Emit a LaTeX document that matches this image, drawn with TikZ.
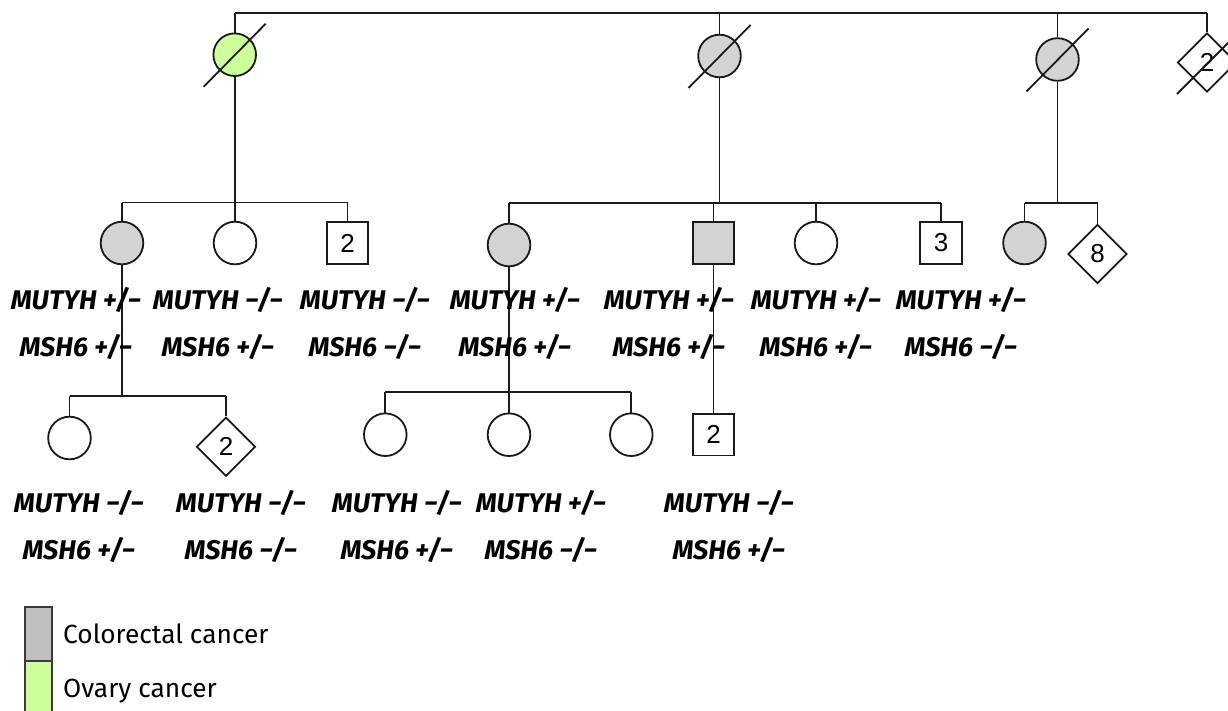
\documentclass[tikz,border=0pt]{standalone}
\usepackage{fontspec}
\setmainfont{Fira Sans}
\newfontfamily\numfont{Liberation Sans}
\usetikzlibrary{shapes.geometric}
\definecolor{ccgray}{HTML}{D3D3D3}
\definecolor{leggray}{HTML}{BFBFBF}
\definecolor{ovgreen}{HTML}{CCFF99}
\definecolor{ink}{HTML}{1A1A1A}
\definecolor{legink}{HTML}{3A3A3A}

\begin{document}
\begin{tikzpicture}[x=1pt,y=-1pt,
  link/.style={draw=ink, line width=1.8pt},
  female/.style={circle, draw=ink, line width=1.8pt, minimum size=42.6pt, inner sep=0pt},
  male/.style={rectangle, draw=ink, line width=1.8pt, minimum size=41.6pt, inner sep=0pt,
    font=\numfont\fontsize{26}{26}\selectfont},
  sexunk/.style={diamond, draw=ink, line width=1.8pt, minimum width=59pt, minimum height=59pt,
    inner sep=0pt, font=\numfont\fontsize{26}{26}\selectfont},
  cc/.style={fill=ccgray},
  ov/.style={fill=ovgreen},
  geno/.style={anchor=base, inner sep=0pt, font=\fontsize{27}{30}\selectfont\bfseries\itshape},
  legbox/.style={draw=legink, line width=2pt, minimum width=27pt, minimum height=53.4pt, inner sep=0pt},
  legtext/.style={anchor=base west, inner sep=0pt, font=\fontsize{26.3}{30}\selectfont}
]
\useasboundingbox (0,0) rectangle (1228,710);
\clip (0,0) rectangle (1228,710);

% ---- generation I
\node[female, ov] (g1a) at (234.7,54.7) {};
\node[female, cc] (g1b) at (719.5,56) {};
\node[female, cc] (g1c) at (1057.5,59.5) {};
\node[sexunk] (g1d) at (1207,62.5) {2};
\coordinate (topbar) at (0,13);
\draw[link] (g1a.north |- topbar) -- (g1d.north |- topbar);
\foreach \p in {g1a,g1b,g1c,g1d} \draw[link] (\p.north) -- (\p.north |- topbar);
% deceased marks
\foreach \p in {g1a,g1b,g1c} \draw[link] (\p.center) +(-31,32) -- +(31,-31);
\draw[link] (g1d.center) +(-30,31.5) -- +(33,-31.5);

% ---- generation II
\node[female, cc] (a1) at (122,243) {};
\node[female] (a2) at (235,243) {};
\node[male] (a3) at (347.5,243) {2};

\node[female, cc] (b1) at (509,245) {};
\node[male, cc] (b2) at (713.5,243) {};
\node[female] (b3) at (816,243) {};
\node[male] (b4) at (941,243) {3};

\node[female, cc] (c1) at (1024.5,243) {};
\node[sexunk] (c2) at (1097.5,254) {8};

\coordinate (barA) at (0,202.5);
\coordinate (barB) at (0,203);
\coordinate (barC) at (0,203);
\draw[link] (g1a.south) -- (g1a.south |- barA);
\draw[link] (a1.north |- barA) -- (a3.north |- barA);
\foreach \p in {a1,a2,a3} \draw[link] (\p.north) -- (\p.north |- barA);
\draw[link] (g1b.south) -- (g1b.south |- barB);
\draw[link] (b1.north |- barB) -- (b4.north |- barB);
\foreach \p in {b1,b2,b3,b4} \draw[link] (\p.north) -- (\p.north |- barB);
\draw[link] (g1c.south) -- (g1c.south |- barC);
\draw[link] (c1.north |- barC) -- (c2.north |- barC);
\foreach \p in {c1,c2} \draw[link] (\p.north) -- (\p.north |- barC);

% ---- generation III
\node[female] (d1) at (69.5,438) {};
\node[sexunk] (d2) at (226,446.7) {2};
\node[female] (e1) at (385.3,434.7) {};
\node[female] (e2) at (509,434.7) {};
\node[female] (e3) at (631.3,434.7) {};
\node[male] (f1) at (713.5,434.7) {2};

\coordinate (barD) at (0,396);
\coordinate (barE) at (0,392.3);
\draw[link] (a1.south) -- (a1.south |- barD);
\draw[link] (d1.north |- barD) -- (d2.north |- barD);
\foreach \p in {d1,d2} \draw[link] (\p.north) -- (\p.north |- barD);
\draw[link] (b1.south) -- (b1.south |- barE);
\draw[link] (e1.north |- barE) -- (e3.north |- barE);
\foreach \p in {e1,e2,e3} \draw[link] (\p.north) -- (\p.north |- barE);
\draw[link] (b2.south) -- (f1.north);

% ---- genotypes
\foreach \n/\x/\y/\m/\s in {
  a1/76/309/+/+, a2/218/309/−/+, a3/365/309/−/−,
  b1/515/309/+/+, b2/669/309/+/+, b3/816/309/+/+, b4/961/309/+/−,
  d1/79/512/−/+, d2/241/512/−/−, e1/397/512/−/+, e2/541/512/+/−, f1/729/512/−/+}
{
  \node[geno] (mutyh-\n) at (\x,\y) {MUTYH \m/−};
  \node[geno] (msh-\n) at (\x,\y+47) {MSH6 \s/−};
}

% ---- legend
\node[legbox, fill=leggray] (keycc) at (38.7,634) {};
\node[legbox, fill=ovgreen] (keyov) at (38.7,687.4) {};
\node[legtext] (keycctext) at (63,643.3) {Colorectal cancer};
\node[legtext] (keyovtext) at (63,697) {Ovary cancer};
\end{tikzpicture}
\end{document}
